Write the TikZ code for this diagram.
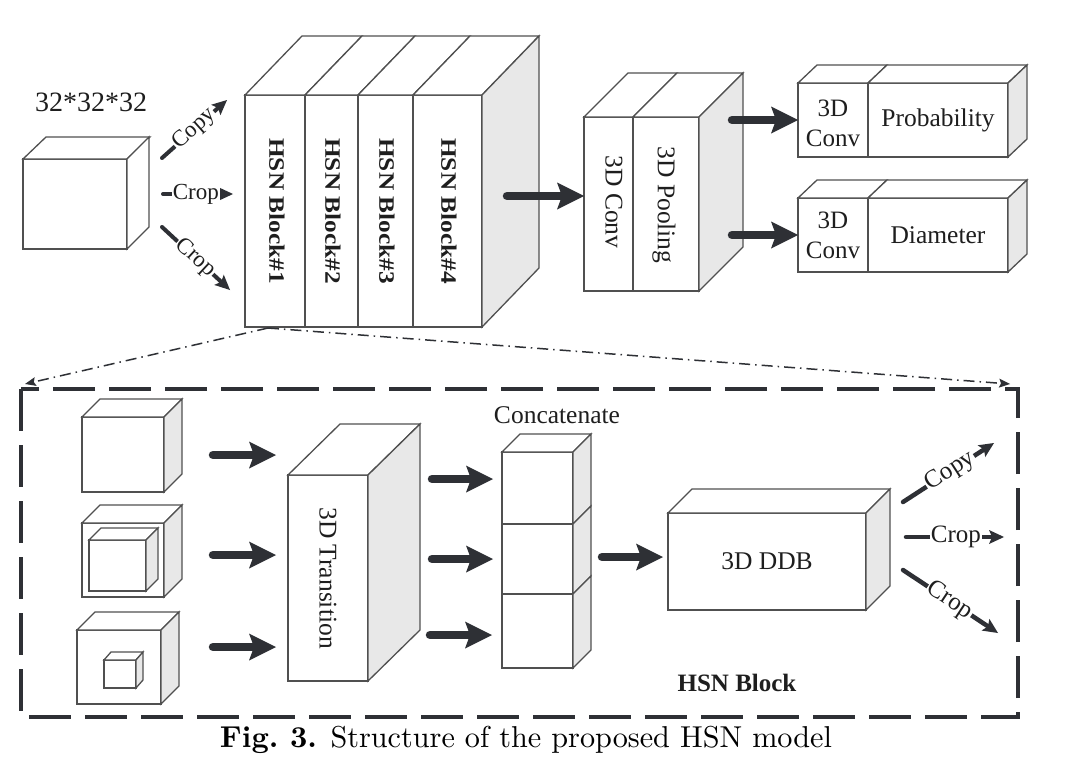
\documentclass[tikz,border=0pt]{standalone}
\usepackage{fontspec}
\usepackage{graphicx}
\newfontfamily\tms{Liberation Serif}
\usetikzlibrary{arrows.meta,calc}
\definecolor{edgec}{HTML}{505050}
\definecolor{sidec}{HTML}{E8E8E8}
\definecolor{arrc}{HTML}{2E3035}
\definecolor{txtc}{HTML}{1E1E1E}
\newcommand{\fsz}[1]{\fontsize{#1}{#1}\selectfont}
% front face as a named node
\newcommand{\face}[5]{\node[face, minimum width={#4-#2}, minimum height={#5-#3}] (#1) at ({(#2+#4)/2},{(#3+#5)/2}) {};}
\newcommand{\topface}[3]{\draw[edge, fill=white] (#1.north west) -- ++(#2,#3) -- ($(#1.north east)+(#2,#3)$) -- (#1.north east) -- cycle;}
\newcommand{\sideface}[4]{\draw[edge, fill=#4] (#1.north east) -- ++(#2,#3) -- ($(#1.south east)+(#2,#3)$) -- (#1.south east) -- cycle;}
\begin{document}
\begin{tikzpicture}[x=1pt,y=-1pt,
  edge/.style={draw=edgec, line width=1.3pt, line join=miter},
  face/.style={rectangle, draw=edgec, line width=1.3pt, fill=white, inner sep=0pt, outer sep=0pt},
  lbl/.style={inner sep=0pt, text=txtc, font=\tms\fsz{25.5}},
  blbl/.style={inner sep=0pt, text=txtc, font=\tms\bfseries\fsz{22}},
  bigarr/.style={draw=arrc, line width=8.5pt, line cap=round, -{Stealth[length=27pt,width=27pt,inset=5pt,line width=0pt]}},
  smallarr/.style={draw=arrc, line width=4pt, line cap=round, -{Stealth[length=15pt,width=14pt,inset=3pt,line width=0pt]}},
  ddarr/.style={draw=arrc, line width=1.5pt, dash pattern=on 11pt off 5pt on 1.5pt off 5pt, -{Stealth[length=11pt,width=9pt,inset=2pt,line width=0pt]}},
  dbox/.style={draw=arrc, line width=4pt, dash pattern=on 42pt off 14pt},
  arrlbl/.style={sloped, fill=white, inner sep=1pt, text=txtc, font=\tms\fsz{23}},
  arrlblb/.style={sloped, fill=white, inner sep=1pt, text=txtc, font=\tms\fsz{25}}
]
\useasboundingbox (0,0) rectangle (1084,776);
\fill[white] (0,0) rectangle (1084,776);

% ---------- input cube ----------
\face{inp}{23}{159}{127}{249}
\topface{inp}{23}{-22}
\sideface{inp}{22}{-22}{white}
\node[lbl, font=\tms\fsz{28}] (dims) at (91,102) {32*32*32};

\coordinate (i1s) at (162,158); \coordinate (i1e) at (227,100);
\coordinate (i2s) at (163,194); \coordinate (i2e) at (233,194);
\coordinate (i3s) at (162,227); \coordinate (i3e) at (230,290);
\draw[smallarr] (i1s) -- node[arrlbl, pos=0.5] (i1l) {Copy} (i1e);
\draw[smallarr] (i2s) -- node[arrlbl, pos=0.47] (i2l) {Crop} (i2e);
\draw[smallarr] (i3s) -- node[arrlbl, pos=0.49] (i3l) {Crop} (i3e);

% ---------- HSN block stack ----------
\face{hb1}{245}{95}{305}{327}
\face{hb2}{305}{95}{358}{327}
\face{hb3}{358}{95}{413}{327}
\face{hb4}{413}{95}{482}{327}
\topface{hb1}{57}{-59}
\topface{hb2}{57}{-59}
\topface{hb3}{57}{-59}
\topface{hb4}{57}{-59}
\sideface{hb4}{57}{-59}{sidec}
\node[blbl, rotate=-90] (hl1) at (277,211) {\scalebox{1.15}[1]{HSN Block\#1}};
\node[blbl, rotate=-90] (hl2) at (333,211) {\scalebox{1.15}[1]{HSN Block\#2}};
\node[blbl, rotate=-90] (hl3) at (387,211) {\scalebox{1.15}[1]{HSN Block\#3}};
\node[blbl, rotate=-90] (hl4) at (449,211) {\scalebox{1.15}[1]{HSN Block\#4}};

% ---------- conv / pooling ----------
\face{cv}{584}{117}{633}{291}
\face{pl}{633}{117}{699}{291}
\topface{cv}{44}{-44}
\topface{pl}{44}{-44}
\sideface{pl}{44}{-44}{sidec}
\node[lbl, rotate=-90] (cvl) at (614,202) {3D Conv};
\node[lbl, rotate=-90] (pll) at (664,205) {3D Pooling};

\coordinate (a1s) at (507,196);
\draw[bigarr] (a1s) -- (a1s -| cv.west);

% ---------- outputs ----------
\face{pc}{798}{83}{868}{157}
\face{pp}{868}{83}{1008}{157}
\topface{pc}{19}{-18}
\topface{pp}{19}{-18}
\sideface{pp}{19}{-18}{sidec}
\node[lbl, align=center, font=\tms\fontsize{25}{30}\selectfont] (pcl) at (833,123) {3D\\Conv};
\node[lbl] (ppl) at (938,120) {Probability};

\face{dc}{798}{198}{868}{272}
\face{dd}{868}{198}{1008}{272}
\topface{dc}{19}{-18}
\topface{dd}{19}{-18}
\sideface{dd}{19}{-18}{sidec}
\node[lbl, align=center, font=\tms\fontsize{25}{30}\selectfont] (dcl) at (833,235) {3D\\Conv};
\node[lbl] (ddl) at (938,235) {Diameter};

\coordinate (a2s) at (732,120);
\coordinate (a3s) at (732,235);
\draw[bigarr] (a2s) -- (a2s -| pc.west);
\draw[bigarr] (a3s) -- (a3s -| dc.west);

% ---------- zoom lines ----------
\coordinate (zs) at (268,328);
\coordinate (zl) at (25,384);
\coordinate (zr) at (1010,384);
\draw[ddarr] (zs) -- (zl);
\draw[ddarr] (zs) -- (zr);

% ---------- HSN block detail ----------
\draw[dbox] (21,389) rectangle (1018,717);

\face{ca}{82}{417}{164}{492}
\topface{ca}{18}{-18}
\sideface{ca}{18}{-18}{sidec}

\face{cb}{82}{523}{164}{597}
\topface{cb}{18}{-18}
\sideface{cb}{18}{-18}{sidec}
\face{cbi}{89}{540}{146}{591}
\topface{cbi}{12}{-12}
\sideface{cbi}{12}{-12}{sidec}

\face{cc}{77}{630}{161}{704}
\topface{cc}{18}{-18}
\sideface{cc}{18}{-18}{sidec}
\face{cci}{104}{660}{136}{688}
\topface{cci}{7}{-8}
\sideface{cci}{7}{-8}{sidec}

\coordinate (b1s) at (213,455); \coordinate (b1e) at (276,455);
\coordinate (b2s) at (213,555); \coordinate (b2e) at (276,555);
\coordinate (b3s) at (213,647); \coordinate (b3e) at (276,647);
\draw[bigarr] (b1s) -- (b1e);
\draw[bigarr] (b2s) -- (b2e);
\draw[bigarr] (b3s) -- (b3e);

\face{tr}{288}{475}{368}{681}
\topface{tr}{52}{-51}
\sideface{tr}{52}{-51}{sidec}
\node[lbl, rotate=-90] (trl) at (tr) {3D Transition};

\coordinate (c1s) at (432,479); \coordinate (c1e) at (493,479);
\coordinate (c2s) at (432,559); \coordinate (c2e) at (493,559);
\coordinate (c3s) at (430,635); \coordinate (c3e) at (492,635);
\draw[bigarr] (c1s) -- (c1e);
\draw[bigarr] (c2s) -- (c2e);
\draw[bigarr] (c3s) -- (c3e);

\face{k1}{502}{452}{573}{524}
\face{k2}{502}{524}{573}{594}
\face{k3}{502}{594}{573}{668}
\topface{k1}{18}{-18}
\sideface{k1}{18}{-18}{sidec}
\sideface{k2}{18}{-18}{sidec}
\sideface{k3}{18}{-18}{sidec}
\node[lbl] (kl) at (557,415) {Concatenate};

\coordinate (d1s) at (602,557); \coordinate (d1e) at (663,557);
\draw[bigarr] (d1s) -- (d1e);

\face{ddb}{668}{513}{866}{610}
\topface{ddb}{24}{-24}
\sideface{ddb}{24}{-24}{sidec}
\node[lbl] (ddbl) at (ddb) {3D DDB};

\coordinate (o1s) at (903,502); \coordinate (o1e) at (994,443);
\coordinate (o2s) at (906,537); \coordinate (o2e) at (1004,537);
\coordinate (o3s) at (903,570); \coordinate (o3e) at (998,633);
\draw[smallarr, line width=4.5pt] (o1s) -- node[arrlblb, pos=0.52] (o1l) {Copy} (o1e);
\draw[smallarr, line width=4.5pt] (o2s) -- node[arrlblb, pos=0.51] (o2l) {Crop} (o2e);
\draw[smallarr, line width=4.5pt] (o3s) -- node[arrlblb, pos=0.49] (o3l) {Crop} (o3e);

\node[blbl, font=\tms\bfseries\fsz{25}] (hsnb) at (737,683) {HSN Block};

% ---------- caption ----------
\node[anchor=base, inner sep=0pt] (cap) at (526,747) {\resizebox{612pt}{!}{\textbf{Fig.~3.} Structure of the proposed HSN model}};
\end{tikzpicture}
\end{document}
